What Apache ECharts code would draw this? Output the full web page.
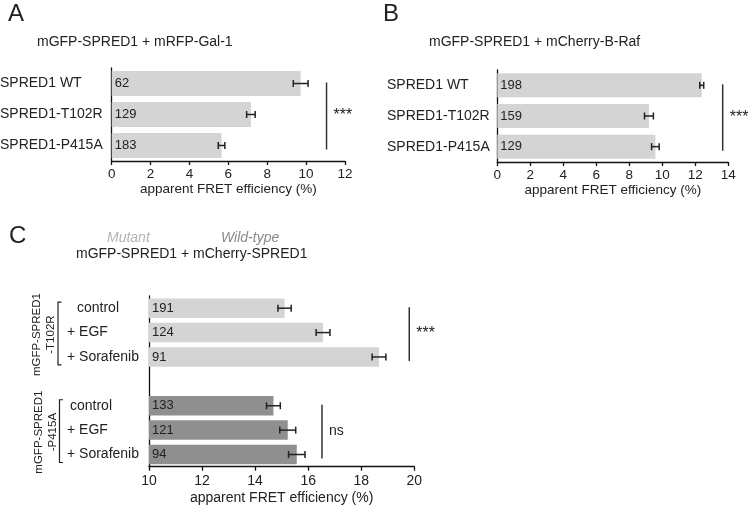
<!DOCTYPE html>
<html><head><meta charset="utf-8">
<script src="https://cdn.jsdelivr.net/npm/echarts@6/dist/echarts.min.js"></script>
<style>html,body{margin:0;padding:0;background:#fff}#c{width:750px;height:505px}</style>
</head><body><div id="c"></div>
<script>
// ---------- data ----------
const catsA = ['SPRED1 WT', 'SPRED1-T102R', 'SPRED1-P415A'];
const valsA = [9.72, 7.16, 5.65];
const errsA = [0.38, 0.22, 0.17];
const countsA = [62, 129, 183];

const catsB = ['SPRED1 WT', 'SPRED1-T102R', 'SPRED1-P415A'];
const valsB = [12.39, 9.19, 9.58];
const errsB = [0.12, 0.27, 0.23];
const countsB = [198, 159, 129];

const catsC = ['control', '+ EGF', '+ Sorafenib', '', 'control', '+ EGF', '+ Sorafenib'];
const valsC = [15.11, 16.56, 18.67, null, 14.69, 15.23, 15.57];
const errsC = [0.25, 0.26, 0.26, null, 0.26, 0.30, 0.31];
const countsC = [191, 124, 91, null, 133, 121, 94];
const groupC = [0, 0, 0, null, 1, 1, 1];
const groupNamesC = [['mGFP-SPRED1', '-T102R'], ['mGFP-SPRED1', '-P415A']];
const groupRangesC = [[0, 2], [4, 6]];

// significance annotations: [x value, first cat, last cat, text]
const sigA = [[11.05, 0, 2, '***']];
const sigB = [[13.66, 0, 2, '***']];
const sigC = [[19.81, 0, 2, '***'], [16.52, 4, 6, 'ns']];

const axisA = {min: 0, max: 12, interval: 2};
const axisB = {min: 0, max: 14, interval: 2};
const axisC = {min: 10, max: 20, interval: 2};

// ---------- styles ----------
const FONT = 'Liberation Sans, Arial, Helvetica, sans-serif';
const TXT = '#222';
const LIGHT = '#d4d4d4';
const DARK = '#8f8f8f';
const indentC = [10, 0, 0, 0, 3, 0, 0];

function errRender(params, api) {
  const v = api.value(0), c = api.value(1), e = api.value(2);
  const lo = api.coord([v - e, c]), hi = api.coord([v + e, c]);
  const h = 3.5;
  const st = {stroke: TXT, lineWidth: 1.5};
  return {type: 'group', children: [
    {type: 'line', shape: {x1: lo[0], y1: lo[1], x2: hi[0], y2: hi[1]}, style: st},
    {type: 'line', shape: {x1: lo[0], y1: lo[1] - h, x2: lo[0], y2: lo[1] + h}, style: st},
    {type: 'line', shape: {x1: hi[0], y1: hi[1] - h, x2: hi[0], y2: hi[1] + h}, style: st}
  ]};
}
function sigRender(list) {
  return function (params, api) {
    const s = list[params.dataIndex];
    const a = api.coord([s[0], s[1]]), b = api.coord([s[0], s[2]]);
    const y1 = a[1] - 1, y2 = b[1] + 4;
    return {type: 'group', children: [
      {type: 'line', shape: {x1: a[0], y1: y1, x2: a[0], y2: y2}, style: {stroke: '#333', lineWidth: 1.5}},
      {type: 'text', x: a[0] + 7, y: (y1 + y2) / 2, style: {text: s[3], font: (s[3] === 'ns' ? '14px ' : '16px ') + FONT, fill: TXT, verticalAlign: 'middle', align: 'left'}}
    ]};
  };
}
function bracketRender(params, api) {
  const r = groupRangesC[params.dataIndex];
  const a = api.coord([10, r[0]]), b = api.coord([10, r[1]]);
  const cs = params.coordSys;
  const x = cs.x - 91 + params.dataIndex * 1.5;
  const y1 = a[1] - 6, y2 = b[1] + 8;
  const st = {stroke: TXT, lineWidth: 1.2, fill: null};
  const names = groupNamesC[params.dataIndex];
  return {type: 'group', children: [
    {type: 'polyline', shape: {points: [[x + 3.5, y1], [x, y1], [x, y2], [x + 3.5, y2]]}, style: st},
    {type: 'text', x: x - 14, y: (a[1] + b[1]) / 2 + 2, rotation: Math.PI / 2,
     style: {text: names[0] + '\n' + names[1], font: '11.5px ' + FONT, fill: TXT, align: 'center', verticalAlign: 'middle', lineHeight: 14}}
  ]};
}

const grids = [
  {left: 111.7, top: 68, width: 233.3, height: 93, outerBoundsMode: 'none', containLabel: false},
  {left: 497.3, top: 70, width: 231, height: 92, outerBoundsMode: 'none', containLabel: false},
  {left: 149, top: 296, width: 265.3, height: 170.7, outerBoundsMode: 'none', containLabel: false}
];

function xAx(i, ax, fs, gap, lm) {
  return Object.assign({
    type: 'value', gridIndex: i, name: 'apparent FRET efficiency (%)', nameLocation: 'middle', nameGap: gap,
    nameTextStyle: {fontFamily: FONT, fontSize: fs, color: TXT},
    axisLine: {show: true, lineStyle: {color: '#111', width: 1.3}},
    axisTick: {show: true, length: 4, lineStyle: {color: '#111', width: 1.3}},
    axisLabel: {fontFamily: FONT, fontSize: fs, color: TXT, margin: lm},
    splitLine: {show: false}
  }, ax);
}
function yAx(i, cats, margin, indents) {
  return {
    type: 'category', gridIndex: i, inverse: true,
    data: cats.map((c, k) => ({value: c, textStyle: {align: 'left', verticalAlign: 'middle', padding: [0, 0, 0, indents ? indents[k] : 0]}})),
    axisLine: {show: true, lineStyle: {color: '#111', width: 1.3}},
    axisTick: {show: false},
    axisLabel: {fontFamily: FONT, fontSize: 14, color: TXT, align: 'left', margin: margin, interval: 0}
  };
}
function barSeries(i, vals, counts, colorFn, bw) {
  return {
    type: 'bar', xAxisIndex: i, yAxisIndex: i, barWidth: bw,
    data: vals.map((v, k) => v == null ? '-' : {value: v, itemStyle: {color: colorFn(k)}}),
    label: {show: true, position: 'insideLeft', distance: 3, fontFamily: FONT, fontSize: 13, color: TXT,
            formatter: p => counts[p.dataIndex]},
    animation: false, silent: true
  };
}
function errSeries(i, vals, errs) {
  const d = [];
  vals.forEach((v, k) => { if (v != null) d.push([v, k, errs[k]]); });
  return {type: 'custom', xAxisIndex: i, yAxisIndex: i, renderItem: errRender, data: d, z: 5, animation: false, silent: true};
}
function sigSeries(i, list) {
  return {type: 'custom', xAxisIndex: i, yAxisIndex: i, renderItem: sigRender(list),
          data: list.map(s => [s[0], s[1]]), clip: false, animation: false, silent: true};
}

const chart = echarts.init(document.getElementById('c'), null, {renderer: 'canvas'});
chart.setOption({
  animation: false,
  grid: grids,
  xAxis: [xAx(0, axisA, 13.5, 19, 6), xAx(1, axisB, 13.5, 19, 6), xAx(2, axisC, 14, 24, 7)],
  yAxis: [yAx(0, catsA, 111.7), yAx(1, catsB, 110.3), yAx(2, catsC, 82, indentC)],
  series: [
    barSeries(0, valsA, countsA, () => LIGHT, 25),
    barSeries(1, valsB, countsB, () => LIGHT, 24),
    barSeries(2, valsC, countsC, k => groupC[k] === 1 ? DARK : LIGHT, 19.5),
    errSeries(0, valsA, errsA), errSeries(1, valsB, errsB), errSeries(2, valsC, errsC),
    sigSeries(0, sigA), sigSeries(1, sigB), sigSeries(2, sigC),
    {type: 'custom', xAxisIndex: 2, yAxisIndex: 2, renderItem: bracketRender,
     data: groupRangesC.map(r => [10, r[0]]), clip: false, animation: false, silent: true}
  ],
  graphic: [
    {type: 'text', left: 8, top: 2, style: {text: 'A', font: '24px ' + FONT, fill: TXT}},
    {type: 'text', left: 383, top: 2, style: {text: 'B', font: '24px ' + FONT, fill: TXT}},
    {type: 'text', left: 9, top: 224, style: {text: 'C', font: '24px ' + FONT, fill: TXT}},
    {type: 'text', left: 37, top: 35, style: {text: 'mGFP-SPRED1 + mRFP-Gal-1', font: '14px ' + FONT, fill: TXT}},
    {type: 'text', left: 429, top: 35, style: {text: 'mGFP-SPRED1 + mCherry-B-Raf', font: '14px ' + FONT, fill: TXT}},
    {type: 'text', left: 107, top: 231, style: {text: 'Mutant', font: 'italic 14px ' + FONT, fill: '#b3b3b3'}},
    {type: 'text', left: 221, top: 231, style: {text: 'Wild-type', font: 'italic 14px ' + FONT, fill: '#8a8a8a'}},
    {type: 'text', left: 76, top: 247, style: {text: 'mGFP-SPRED1 + mCherry-SPRED1', font: '14px ' + FONT, fill: TXT}}
  ]
});
</script>
</body></html>
